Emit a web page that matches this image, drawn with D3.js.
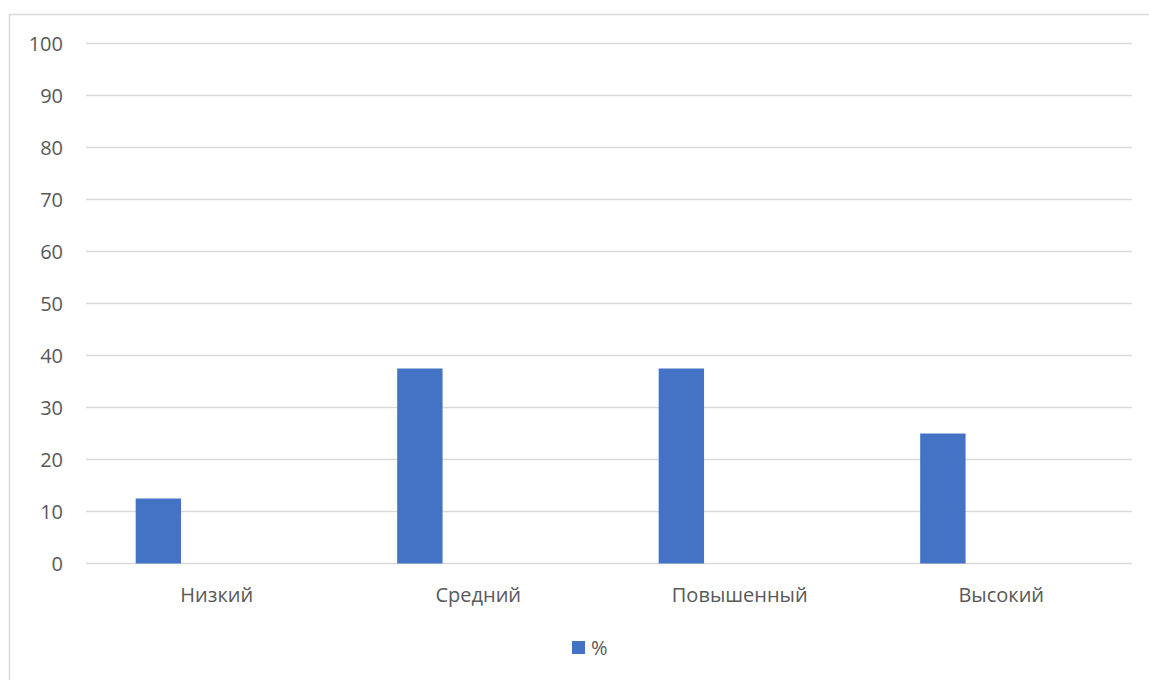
<!DOCTYPE html>
<html>
<head>
<meta charset="utf-8">
<script src="https://cdn.jsdelivr.net/npm/d3@7"></script>
<style>
  html, body { margin: 0; padding: 0; background: #fff; }
  svg { display: block; }
  text { font-family: "Open Sans", "Noto Sans", sans-serif; fill: #595959; }
</style>
</head>
<body>
<svg id="chart" width="1149" height="680"></svg>
<script>
// Levels and their share, %
const categories = ["Низкий", "Средний", "Повышенный", "Высокий"];
const values = [12.5, 37.5, 37.5, 25];
const seriesName = "%";
const yTicks = [0, 10, 20, 30, 40, 50, 60, 70, 80, 90, 100];

const svg = d3.select("#chart");
const W = 1149, H = 680;
const plot = { left: 86, right: 1132, top: 43.5, bottom: 563.5 };

// chart frame (open at the right and bottom edges of the page)
svg.append("rect")
  .attr("x", 9.5).attr("y", 14.5)
  .attr("width", W + 20).attr("height", H + 20)
  .attr("fill", "#fff")
  .attr("stroke", "#d9d9d9").attr("stroke-width", 1.5);

const x = d3.scaleBand().domain(categories).range([plot.left, plot.right]).padding(0);
const y = d3.scaleLinear().domain([0, 100]).range([plot.bottom, plot.top]);

// horizontal gridlines
svg.append("g").selectAll("line").data(yTicks).join("line")
  .attr("x1", plot.left).attr("x2", plot.right)
  .attr("y1", d => y(d)).attr("y2", d => y(d))
  .attr("stroke", "#d9d9d9").attr("stroke-width", 1.5);

// value axis labels
svg.append("g").selectAll("text").data(yTicks).join("text")
  .attr("x", 63).attr("y", d => y(d))
  .attr("dy", "0.35em")
  .attr("text-anchor", "end")
  .attr("font-size", 20)
  .text(d => d);

// columns: single series sits in the left slot of each category group
const barOffset = x.bandwidth() * 0.19;
const barWidth = x.bandwidth() * 0.1735;
svg.append("g").selectAll("rect").data(categories).join("rect")
  .attr("x", d => x(d) + barOffset)
  .attr("width", barWidth)
  .attr("y", (d, i) => y(values[i]))
  .attr("height", (d, i) => y(0) - y(values[i]))
  .attr("fill", "#4472C4");

// category labels
svg.append("g").selectAll("text").data(categories).join("text")
  .attr("x", d => x(d) + x.bandwidth() / 2)
  .attr("y", 595)
  .attr("dy", "0.35em")
  .attr("text-anchor", "middle")
  .attr("font-size", 20)
  .text(d => d);

// legend
const legend = svg.append("g");
legend.append("rect")
  .attr("x", 572).attr("y", 641)
  .attr("width", 13).attr("height", 13)
  .attr("fill", "#4472C4");
legend.append("text")
  .attr("x", 591).attr("y", 648)
  .attr("dy", "0.35em")
  .attr("font-size", 20)
  .text(seriesName);
</script>
</body>
</html>
